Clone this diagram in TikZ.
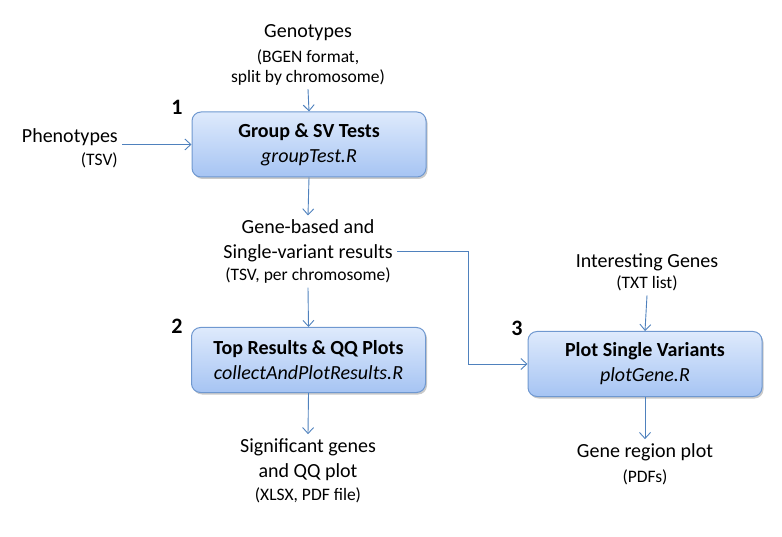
\documentclass[tikz,border=0pt]{standalone}
\usepackage{fontspec}
\setmainfont{Carlito}
\usetikzlibrary{arrows.meta,shadows}

\definecolor{flowblue}{HTML}{4F81BD}
\definecolor{boxline}{HTML}{6F98D0}
\definecolor{boxtop}{HTML}{DEEAFC}
\definecolor{boxbottom}{HTML}{A6C4F3}

\newcommand{\bigtxt}{\fontsize{20}{25}\selectfont}
\newcommand{\smtxt}{\fontsize{17.5}{20}\selectfont}

\tikzset{
    stepbox/.style={draw=boxline, line width=1pt, rounded corners=9pt,
        top color=boxtop, bottom color=boxbottom,
        minimum width=234pt, minimum height=65pt, align=center,
        font=\bigtxt,
        drop shadow={shadow xshift=1.5pt, shadow yshift=-2pt, opacity=.35, fill=black!60}},
    datatext/.style={align=center, font=\bigtxt, inner sep=4pt},
    stepnum/.style={font=\fontsize{22}{26}\selectfont\bfseries},
    flow/.style={draw=flowblue, line width=0.9pt, -{Straight Barb[length=6pt, width=11pt]}}
}

\begin{document}
\begin{tikzpicture}[x=1pt, y=-1pt]
        \useasboundingbox (0, 0) rectangle (782, 537);

        % --- Steps ---
        \node[stepbox] (group) at (309, 144.5) {\textbf{Group \& SV Tests}\\\textit{groupTest.R}};
        \node[stepbox] (top) at (308.5, 360) {\textbf{Top Results \& QQ Plots}\\\textit{collectAndPlotResults.R}};
        \node[stepbox] (plot) at (645, 364) {\textbf{Plot Single Variants}\\\textit{plotGene.R}};

        \node[stepnum] (n1) at (177, 107) {1};
        \node[stepnum] (n2) at (177, 326) {2};
        \node[stepnum] (n3) at (517, 328) {3};

        % --- Inputs and outputs ---
        \node[datatext] (geno) at (308, 54.5) {Genotypes\\{\smtxt (BGEN format,}\\[-5pt]{\smtxt split by chromosome)}};
        \node[datatext, align=right, anchor=east] (pheno) at (122, 148) {Phenotypes\\[-2pt]{\smtxt (TSV)}};
        \node[datatext] (res) at (308, 251.5) {Gene-based and\\Single-variant results\\[-3pt]{\smtxt (TSV, per chromosome)}};
        \node[datatext] (genes) at (647, 272.5) {Interesting Genes\\[-4pt]{\smtxt (TXT list)}};
        \node[datatext] (sig) at (308, 470.5) {Significant genes\\and QQ plot\\[-2pt]{\smtxt (XLSX, PDF file)}};
        \node[datatext] (region) at (645, 464) {Gene region plot\\{\smtxt (PDFs)}};

        \coordinate (turn) at (468, 0);

        % --- Connectors ---
        \draw[flow] (geno.south) -- (group.north);
        \draw[flow] (pheno.east |- group.west) -- (group.west);
        \draw[flow] (group.south) -- (res.north);
        \draw[flow] (res.south) -- (top.north);
        \draw[flow] (res.east) -- (res.east -| turn) -- (turn |- plot.west) -- (plot.west);
        \draw[flow] (genes.south) -- (plot.north);
        \draw[flow] (top.south) -- (sig.north);
        \draw[flow] (plot.south) -- (region.north);

    \end{tikzpicture}
\end{document}
